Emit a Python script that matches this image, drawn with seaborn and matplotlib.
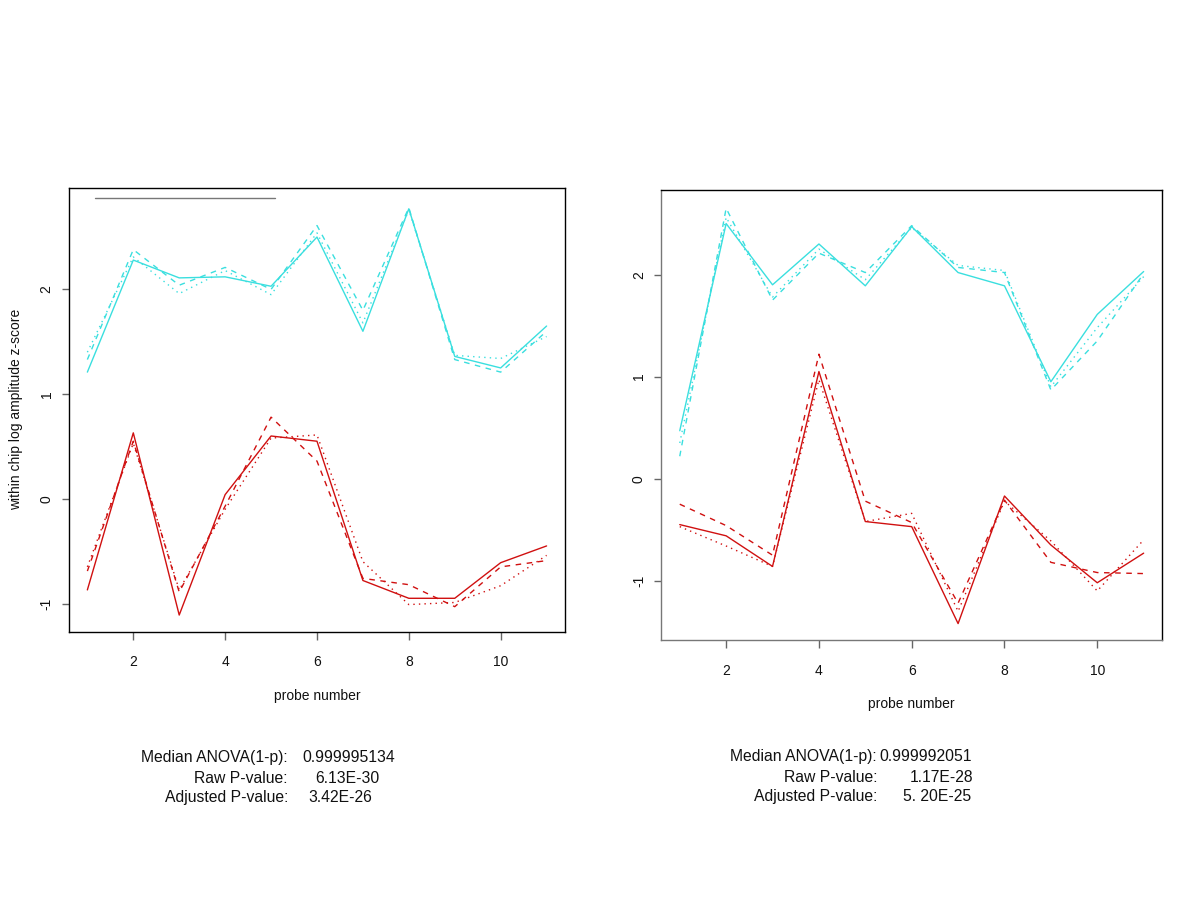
import numpy as np
import pandas as pd
import matplotlib
matplotlib.use("Agg")
import matplotlib.pyplot as plt
import seaborn as sns

sns.set_theme(style="ticks")
plt.rcParams["font.family"] = ["Liberation Sans", "DejaVu Sans"]

probes = list(range(1, 12))

# left panel: three replicates per group (solid, dashed, dotted)
left_cyan_solid = [1.21, 2.28, 2.11, 2.12, 2.03, 2.50, 1.60, 2.77, 1.36, 1.25, 1.65]
left_cyan_dashed = [1.33, 2.38, 2.04, 2.21, 2.00, 2.61, 1.80, 2.78, 1.33, 1.21, 1.60]
left_cyan_dotted = [1.40, 2.31, 1.96, 2.18, 1.95, 2.54, 1.68, 2.76, 1.37, 1.34, 1.55]
left_red_solid = [-0.87, 0.63, -1.11, 0.04, 0.60, 0.55, -0.78, -0.95, -0.95, -0.61, -0.45]
left_red_dashed = [-0.69, 0.55, -0.89, -0.07, 0.78, 0.36, -0.76, -0.82, -1.03, -0.65, -0.59]
left_red_dotted = [-0.65, 0.53, -0.87, -0.10, 0.58, 0.61, -0.60, -1.01, -0.99, -0.83, -0.54]

# right panel
right_cyan_solid = [0.47, 2.50, 1.90, 2.30, 1.89, 2.47, 2.02, 1.89, 0.95, 1.61, 2.03]
right_cyan_dashed = [0.22, 2.65, 1.75, 2.21, 2.02, 2.48, 2.07, 2.02, 0.87, 1.35, 2.01]
right_cyan_dotted = [0.35, 2.56, 1.78, 2.25, 1.95, 2.46, 2.09, 2.04, 0.90, 1.48, 1.98]
right_red_solid = [-0.45, -0.56, -0.86, 1.05, -0.42, -0.47, -1.42, -0.17, -0.65, -1.02, -0.73]
right_red_dashed = [-0.25, -0.46, -0.75, 1.22, -0.22, -0.43, -1.22, -0.21, -0.82, -0.92, -0.93]
right_red_dotted = [-0.47, -0.66, -0.86, 0.97, -0.42, -0.34, -1.30, -0.22, -0.61, -1.10, -0.60]

# stray grey segment at the top of the left panel
grey_seg_x = [1.17, 5.08]
grey_seg_y = [2.87, 2.87]

left_stats = ["0.999995134", "6.13E-30", "3.42E-26"]
right_stats = ["0.999992051", "1.17E-28", "5. 20E-25"]
stat_names = ["Median ANOVA(1-p):", "Raw P-value:", "Adjusted P-value:"]

palette = {"cyan": "#3ADFDF", "red": "#D01010"}
dashes = {"solid": "", "dashed": (4, 4), "dotted": (1, 3)}


def to_long(series):
    rows = []
    for (grp, rep), vals in series.items():
        for p, v in zip(probes, vals):
            rows.append({"probe": p, "z": v, "group": grp, "rep": rep})
    return pd.DataFrame(rows)


left_df = to_long({
    ("cyan", "solid"): left_cyan_solid, ("cyan", "dashed"): left_cyan_dashed,
    ("cyan", "dotted"): left_cyan_dotted, ("red", "solid"): left_red_solid,
    ("red", "dashed"): left_red_dashed, ("red", "dotted"): left_red_dotted,
})
right_df = to_long({
    ("cyan", "solid"): right_cyan_solid, ("cyan", "dashed"): right_cyan_dashed,
    ("cyan", "dotted"): right_cyan_dotted, ("red", "solid"): right_red_solid,
    ("red", "dashed"): right_red_dashed, ("red", "dotted"): right_red_dotted,
})

fig = plt.figure(figsize=(12, 9), dpi=100)
ax1 = fig.add_axes([0.0575, 0.298, 0.4133, 0.4933])
ax2 = fig.add_axes([0.551, 0.289, 0.4175, 0.5])


def draw_panel(ax, df, ylim, axis_color):
    sns.lineplot(data=df, x="probe", y="z", hue="group", style="rep",
                 palette=palette, dashes=dashes, estimator=None,
                 linewidth=1.0, legend=False, ax=ax)
    ax.set_xlim(0.6, 11.4)
    ax.set_ylim(*ylim)
    ax.set_xticks([2, 4, 6, 8, 10])
    ax.set_yticks([-1, 0, 1, 2])
    ax.set_yticklabels(["-1", "0", "1", "2"], rotation=90, va="center")
    ax.tick_params(axis="both", labelsize=10, width=1.0, color="#666666",
                   labelcolor="#111111")
    ax.tick_params(axis="x", length=6, pad=11)
    ax.tick_params(axis="y", length=5, pad=6)
    for s in ax.spines.values():
        s.set_color("black")
        s.set_linewidth(1.0)
    ax.spines["left"].set_color(axis_color)
    ax.spines["bottom"].set_color(axis_color)
    ax.set_xlabel("probe number", fontsize=10, labelpad=14, color="#111111")
    ax.set_ylabel("")


draw_panel(ax1, left_df, (-1.27, 2.97), "black")
draw_panel(ax2, right_df, (-1.58, 2.83), "#777777")
ax1.plot(grey_seg_x, grey_seg_y, color="#777777", lw=1.0)
ax1.set_ylabel("within chip log amplitude z-score", fontsize=10, labelpad=12,
               color="#111111")

# stats text under each panel
for name, val, y, vx in zip(stat_names, left_stats, [762, 783, 802], [302, 315, 308]):
    fig.text(288 / 1200, 1 - y / 900, name, ha="right", va="baseline", fontsize=11.3,
             color="#111111")
    fig.text(vx / 1200, 1 - y / 900, val, ha="left", va="baseline", fontsize=11.3,
             color="#111111")
for name, val, y, vx in zip(stat_names, right_stats, [761, 782, 801], [879, 910, 903]):
    fig.text(877 / 1200, 1 - y / 900, name, ha="right", va="baseline", fontsize=11.3,
             color="#111111")
    fig.text(vx / 1200, 1 - y / 900, val, ha="left", va="baseline", fontsize=11.3,
             color="#111111")

fig.savefig("out.png", dpi=100)
